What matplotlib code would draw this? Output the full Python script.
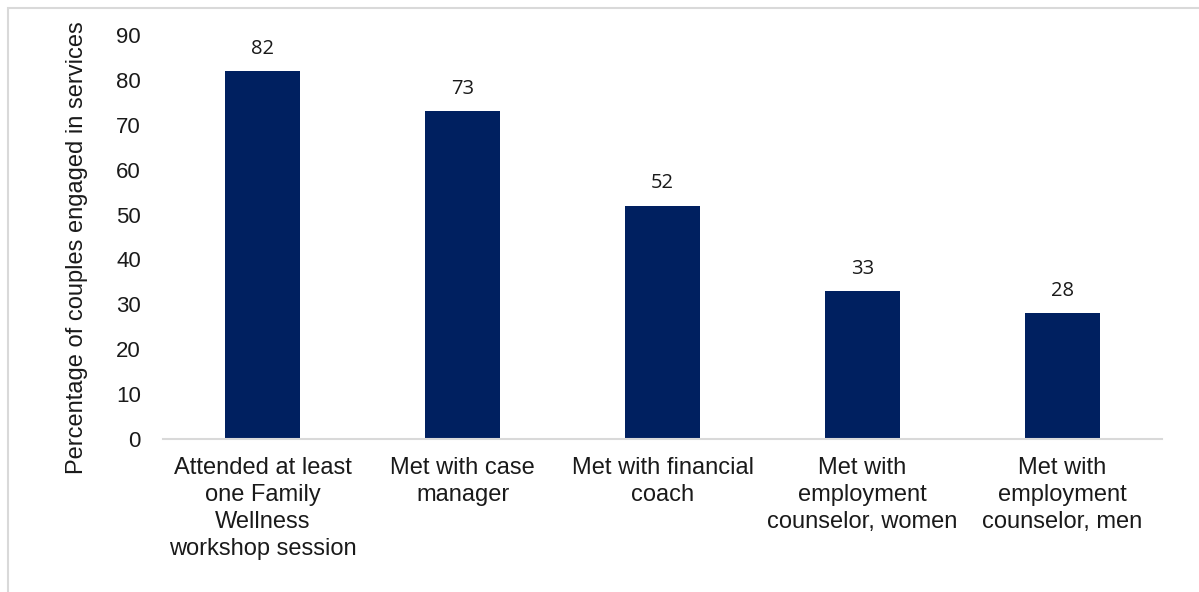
import matplotlib.pyplot as plt
from matplotlib.patches import Rectangle

categories = [
    "Attended at least\none Family\nWellness\nworkshop session",
    "Met with case\nmanager",
    "Met with financial\ncoach",
    "Met with\nemployment\ncounselor, women",
    "Met with\nemployment\ncounselor, men",
]
values = [82, 73, 52, 33, 28]
yticks = [0, 10, 20, 30, 40, 50, 60, 70, 80, 90]

plt.rcParams["font.family"] = ["Liberation Sans", "DejaVu Sans"]
text_color = "#1a1a1a"
bar_color = "#002060"

fig = plt.figure(figsize=(11.99, 5.92), dpi=100)
ax = fig.add_axes([163 / 1199, 1 - 439 / 592, 999 / 1199, 404 / 592])

# light gray frame around the chart area (runs off the right/bottom edge)
fig.patches.append(
    Rectangle((8 / 1199, -0.05), 1.2, 0.9865 + 0.05, transform=fig.transFigure,
              fill=False, ec="#d9d9d9", lw=1.5)
)

x = range(len(categories))
bars = ax.bar(x, values, width=0.375, color=bar_color, zorder=2)

for xi, v in zip(x, values):
    ax.text(xi, v + 2.7, str(v), ha="center", va="bottom", fontsize=14.5,
            color=text_color, family=["Open Sans", "DejaVu Sans"])

ax.set_xlim(-0.5, len(categories) - 0.5)
ax.set_ylim(0, 90)
ax.set_yticks(yticks)
ax.set_xticks(list(x))
ax.set_xticklabels(categories, fontsize=17, color=text_color, linespacing=1.3)
ax.tick_params(axis="y", labelsize=16, labelcolor=text_color, length=0, pad=16)
ax.tick_params(axis="x", length=0, pad=13)

for s in ["top", "right", "left"]:
    ax.spines[s].set_visible(False)
ax.spines["bottom"].set_color("#d9d9d9")
ax.spines["bottom"].set_linewidth(1.5)

ax.set_ylabel("Percentage of couples engaged in services", fontsize=17,
              color=text_color)
ax.yaxis.set_label_coords(-0.075, 0.473)

fig.savefig("out.png", dpi=100)
